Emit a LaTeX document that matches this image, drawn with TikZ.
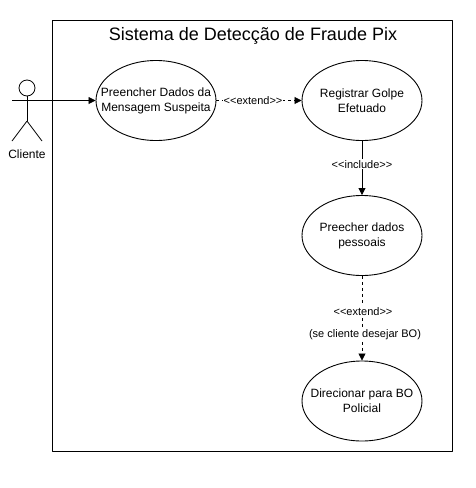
\documentclass[tikz,border=0pt]{standalone}
\usepackage{fontspec}
\setmainfont{Liberation Sans}
\usetikzlibrary{arrows.meta,shapes.geometric}

\begin{document}
\begin{tikzpicture}[x=1pt, y=-1pt, line join=bevel]
    \tikzset{%
      usecase/.style   = {draw, ellipse, line width=0.9pt, minimum width=120pt, minimum height=80pt,
                          inner xsep=-15pt, inner ysep=0pt, align=center, font=\fontsize{12}{15}\selectfont},
      frame_box/.style = {draw, line width=0.8pt, minimum width=400pt, minimum height=431pt, inner sep=0pt},
      link/.style      = {line width=0.8pt, -{Triangle[length=7pt,width=7pt]}},
      dep/.style       = {link, dash pattern=on 3pt off 3pt},
      lbl/.style       = {fill=white, inner sep=1pt, font=\fontsize{11}{13}\selectfont},
      limb/.style      = {line width=0.8pt}
    }
    \useasboundingbox (0,0) rectangle (475,488);

    \node[frame_box] (sistema) at (252,235.5) {};
    \node[font=\fontsize{18}{21}\selectfont] (titulo) at (253,36) {Sistema de Detecção de Fraude Pix};

    % casos de uso
    \node[usecase] (preencher) at (156,100.5) {Preencher Dados da\\Mensagem Suspeita};
    \node[usecase] (registrar) at (362,100.5) {Registrar Golpe\\Efetuado};
    \node[usecase] (pessoais)  at (362,235.5) {Preecher dados\\pessoais};
    \node[usecase] (policial)  at (362,401)   {Direcionar para BO\\Policial};

    % ator
    \node[draw, circle, line width=0.8pt, minimum size=16pt, inner sep=0pt] (cabeca) at (27,88) {};
    \coordinate (quadril) at (27,121);
    \coordinate (bracoE)  at (12,100.5);
    \coordinate (pernaE)  at (12,141);
    \coordinate (pernaD)  at (42,141);
    \draw[limb] (cabeca) -- (quadril);
    \draw[limb] (pernaE) -- (quadril) -- (pernaD);
    \node[font=\fontsize{12}{15}\selectfont] (cliente) at (27,154) {Cliente};

    % ligacoes
    \draw[link] (bracoE) -- (preencher);
    \draw[dep]  (preencher) -- node[lbl, pos=.43] (ext1) {<{}<extend>{}>} (registrar);
    \draw[link] (registrar) -- node[lbl, pos=.43] (inc) {<{}<include>{}>} (pessoais);
    \draw[dep]  (pessoais) -- (policial);
    \node[lbl] (ext2) at (363,311.5) {<{}<extend>{}>};
    \node[lbl] (bo)   at (365,335) {(se cliente desejar BO)};
\end{tikzpicture}
\end{document}
